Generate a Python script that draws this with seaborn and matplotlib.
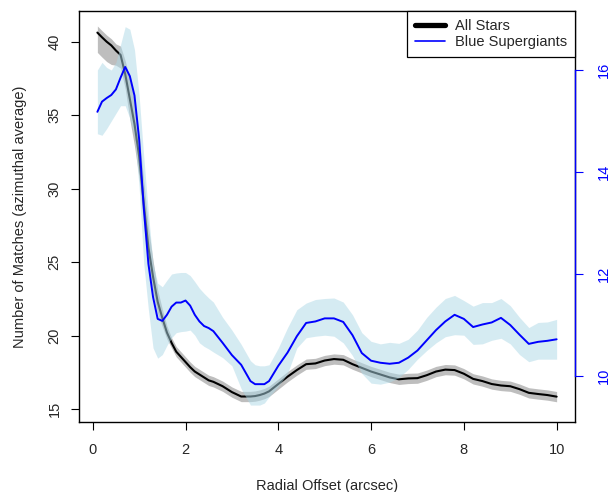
import numpy as np
import pandas as pd
import matplotlib
matplotlib.use("Agg")
import matplotlib.pyplot as plt
from matplotlib.lines import Line2D
import seaborn as sns

# ---------------- data ----------------
radius = [0.1, 0.2, 0.3, 0.4, 0.5, 0.6, 0.7, 0.8, 0.9, 1.0,
          1.1, 1.2, 1.3, 1.4, 1.5, 1.6, 1.7, 1.8, 1.9, 2.0,
          2.1, 2.2, 2.3, 2.4, 2.5, 2.6, 2.8, 3.0, 3.2, 3.4,
          3.5, 3.6, 3.7, 3.8, 4.0, 4.2, 4.4, 4.6, 4.8, 5.0,
          5.2, 5.4, 5.6, 5.8, 6.0, 6.2, 6.4, 6.6, 6.8, 7.0,
          7.2, 7.4, 7.6, 7.8, 8.0, 8.2, 8.4, 8.6, 8.8, 9.0,
          9.2, 9.4, 9.6, 9.8, 10.0]

all_stars = [40.62, 40.3, 40.0, 39.75, 39.4, 39.1, 37.8, 36.1, 34.4, 32.2,
             29.0, 26.0, 24.0, 22.3, 21.2, 20.2, 19.5, 18.9, 18.55, 18.2,
             17.85, 17.55, 17.35, 17.15, 16.95, 16.85, 16.55, 16.15, 15.85, 15.85,
             15.88, 15.95, 16.05, 16.2, 16.7, 17.2, 17.65, 18.05, 18.1, 18.3,
             18.4, 18.35, 18.05, 17.8, 17.55, 17.35, 17.15, 17.02, 17.08, 17.1,
             17.3, 17.55, 17.68, 17.65, 17.4, 17.05, 16.9, 16.7, 16.6, 16.55,
             16.35, 16.1, 16.02, 15.95, 15.84]

all_err_hi = [0.45, 0.45, 0.45, 0.45, 0.45, 0.6, 0.9, 1.4, 1.5, 1.5,
              1.5, 1.4, 1.1, 0.8, 0.6, 0.45, 0.35, 0.35, 0.35, 0.35,
              0.35, 0.35, 0.35, 0.35, 0.35, 0.35, 0.35, 0.35, 0.35, 0.35,
              0.35, 0.35, 0.35, 0.35, 0.35, 0.35, 0.35, 0.35, 0.35, 0.35,
              0.35, 0.35, 0.35, 0.35, 0.35, 0.35, 0.35, 0.35, 0.35, 0.35,
              0.35, 0.35, 0.35, 0.35, 0.35, 0.35, 0.35, 0.35, 0.35, 0.35,
              0.35, 0.35, 0.35, 0.35, 0.35]
all_err_lo = [1.35, 1.35, 1.35, 1.3, 1.0, 0.9, 1.0, 1.4, 1.5, 1.5,
              1.5, 1.4, 1.1, 0.8, 0.6, 0.45, 0.35, 0.35, 0.35, 0.35,
              0.35, 0.35, 0.35, 0.35, 0.35, 0.35, 0.35, 0.35, 0.35, 0.35,
              0.35, 0.35, 0.35, 0.35, 0.35, 0.35, 0.35, 0.35, 0.35, 0.35,
              0.35, 0.35, 0.35, 0.35, 0.35, 0.35, 0.35, 0.35, 0.35, 0.35,
              0.35, 0.35, 0.35, 0.35, 0.35, 0.35, 0.35, 0.35, 0.35, 0.35,
              0.35, 0.35, 0.35, 0.35, 0.35]

blue_sg = [15.18, 15.38, 15.45, 15.51, 15.62, 15.85, 16.06, 15.88, 15.5, 14.65,
           13.3, 12.2, 11.55, 11.12, 11.08, 11.2, 11.36, 11.44, 11.44, 11.48,
           11.38, 11.2, 11.07, 10.98, 10.94, 10.88, 10.65, 10.41, 10.22, 9.9,
           9.84, 9.84, 9.84, 9.9, 10.2, 10.46, 10.78, 11.04, 11.07, 11.13,
           11.13, 11.06, 10.8, 10.45, 10.3, 10.26, 10.24, 10.26, 10.36, 10.5,
           10.7, 10.9, 11.07, 11.2, 11.12, 10.96, 11.01, 11.05, 11.14, 11.0,
           10.81, 10.63, 10.67, 10.69, 10.72]

blue_hi = [16.0, 16.15, 16.05, 16.0, 16.15, 16.5, 16.85, 16.8, 16.4, 15.5,
           14.3, 13.2, 12.2, 11.82, 11.75, 11.88, 12.0, 12.02, 12.03, 12.03,
           11.97, 11.85, 11.72, 11.62, 11.53, 11.45, 11.15, 10.9, 10.62, 10.3,
           10.22, 10.2, 10.2, 10.22, 10.55, 10.95, 11.3, 11.43, 11.5, 11.52,
           11.53, 11.45, 11.2, 10.85, 10.68, 10.63, 10.66, 10.64, 10.72, 10.9,
           11.15, 11.35, 11.52, 11.58, 11.48, 11.37, 11.44, 11.44, 11.52, 11.38,
           11.15, 10.95, 11.05, 11.06, 11.11]

blue_lo = [14.75, 14.72, 14.85, 15.0, 15.15, 15.3, 15.3, 15.05, 14.7, 13.7,
           12.2, 11.3, 10.55, 10.35, 10.42, 10.6, 10.75, 10.85, 10.87, 10.88,
           10.9, 10.8, 10.65, 10.58, 10.53, 10.47, 10.36, 10.2, 9.75, 9.43,
           9.43, 9.43, 9.47, 9.59, 9.8, 10.05, 10.55, 10.75, 10.78, 10.8,
           10.78, 10.65, 10.4, 10.05, 9.86, 9.84, 9.88, 9.97, 10.13, 10.33,
           10.5, 10.65, 10.77, 10.81, 10.8, 10.62, 10.63, 10.7, 10.74, 10.63,
           10.42, 10.28, 10.33, 10.33, 10.33]

left_ticks = [15, 20, 25, 30, 35, 40]
right_ticks = [10, 12, 14, 16]
x_ticks = [0, 2, 4, 6, 8, 10]

# ---------------- figure ----------------
sns.set_style("white")
plt.rcParams["font.family"] = ["Liberation Sans", "DejaVu Sans"]
FS = 10.5

df = pd.DataFrame({"r": radius, "all": all_stars, "blue": blue_sg})
all_hi = np.array(all_stars) + np.array(all_err_hi)
all_lo = np.array(all_stars) - np.array(all_err_lo)

fig = plt.figure(figsize=(6.16, 4.92), dpi=100)
ax = fig.add_axes([79 / 616, 1 - 421.7 / 492, (575 - 79) / 616, (421.7 - 11) / 492])

ax.fill_between(radius, all_lo, all_hi, color="#bebebe", lw=0, zorder=1)
sns.lineplot(data=df, x="r", y="all", ax=ax, color="black", lw=1.5, zorder=2,
             estimator=None, sort=False)

ax.set_xlim(-0.296, 10.396)
ax.set_ylim(14.135, 42.09)
ax.set_xticks(x_ticks)
ax.set_xticklabels([str(t) for t in x_ticks], fontsize=FS)
ax.set_yticks(left_ticks)
ax.set_yticklabels([str(t) for t in left_ticks], fontsize=FS, rotation=90, va="center")
ax.tick_params(axis="both", direction="out", length=5.5, width=0.8, color="black",
               left=True, bottom=True)
ax.tick_params(axis="x", pad=9.5)
ax.tick_params(axis="y", pad=7)
ax.set_xlabel("Radial Offset (arcsec)", fontsize=FS, labelpad=16)
ax.set_ylabel("Number of Matches (azimuthal average)", fontsize=FS, labelpad=15)
for s in ax.spines.values():
    s.set_color("black")
    s.set_linewidth(1.0)

ax2 = ax.twinx()
ax2.fill_between(radius, blue_lo, blue_hi, color="lightblue", alpha=0.5, lw=0, zorder=1)
sns.lineplot(data=df, x="r", y="blue", ax=ax2, color="blue", lw=1.4, zorder=2,
             estimator=None, sort=False)
ax2.set_ylim(9.104, 17.157)
ax2.set_yticks(right_ticks)
ax2.set_yticklabels([str(t) for t in right_ticks], fontsize=FS, rotation=90,
                    va="center", color="blue")
ax2.tick_params(axis="y", direction="out", length=5.5, width=0.8, color="blue",
                right=True, pad=10.5)
ax2.set_ylabel("")
for k in ["left", "top", "bottom"]:
    ax2.spines[k].set_visible(False)
ax2.spines["right"].set_color("blue")
ax2.spines["right"].set_linewidth(1.0)
ax2.spines["right"].set_bounds(10, 16)
ax2.spines["right"].set_zorder(5)

handles = [Line2D([], [], color="black", lw=3.8),
           Line2D([], [], color="blue", lw=1.2)]
leg = ax2.legend(handles, ["All Stars", "Blue Supergiants"], loc="upper right",
                 bbox_to_anchor=(1.0, 1.0), borderaxespad=0, fontsize=FS,
                 fancybox=False, framealpha=1, edgecolor="black",
                 handlelength=2.0, handletextpad=0.7, labelspacing=0.15,
                 borderpad=0.55)
leg.get_frame().set_linewidth(0.9)
leg.set_zorder(10)

fig.savefig("out.png", dpi=100)
